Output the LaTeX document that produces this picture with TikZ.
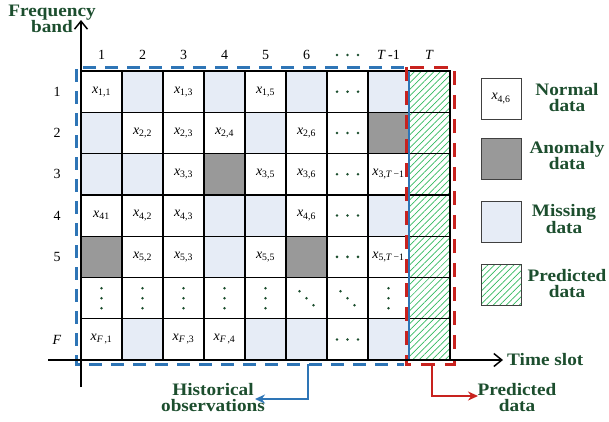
\documentclass[tikz,border=0pt]{standalone}
\usepackage{fontspec}
\setmainfont{Liberation Serif}
\newfontfamily\lblfont[FakeStretch=1.1]{Liberation Serif}
\usetikzlibrary{arrows.meta,patterns.meta}
\definecolor{dgreen}{RGB}{28,78,46}
\definecolor{hblue}{RGB}{46,117,182}
\definecolor{predred}{RGB}{200,34,30}
\definecolor{missfill}{RGB}{230,236,246}
\definecolor{anomfill}{RGB}{153,153,153}
\definecolor{hatch}{RGB}{50,185,95}
\newcommand{\xs}[1]{\textit{x}\textsubscript{#1}}
% cell of the data matrix: column, row, style, content
\newcommand{\cellat}[4]{\node[#3] (c#2-#1) at ({81+41*(#1-0.5)},{71+41.3*(#2-0.5)}) {#4};}
\begin{document}
\begin{tikzpicture}[x=1pt,y=-1pt,
  cell/.style={draw=black,line width=1.3pt,fill=white,minimum width=41pt,minimum height=41.3pt,
    inner sep=0pt,font=\fontsize{14}{14}\selectfont},
  missing/.style={cell,fill=missfill},
  anomaly/.style={cell,fill=anomfill},
  predcell/.style={cell,pattern={Lines[angle=45,distance=4.6pt,line width=0.7pt]},pattern color=hatch},
  legbox/.style={draw=black!75,line width=1pt,minimum width=40pt,minimum height=41pt,inner sep=0pt,
    font=\fontsize{14}{14}\selectfont},
  axlab/.style={font=\fontsize{14}{14}\selectfont},
  title/.style={text=dgreen,align=center,inner sep=0pt,font=\lblfont\bfseries\fontsize{17.5}{16}\selectfont},
  axis/.style={line width=1.5pt,-{Straight Barb[length=8pt,width=13pt,line width=1.5pt]}},
  dotf/.style={fill=dgreen}
]
\useasboundingbox (0,0) rectangle (609,421);

% row 1
\cellat{1}{1}{cell}{\xs{1,1}}
\cellat{2}{1}{missing}{}
\cellat{3}{1}{cell}{\xs{1,3}}
\cellat{4}{1}{missing}{}
\cellat{5}{1}{cell}{\xs{1,5}}
\cellat{6}{1}{missing}{}
\cellat{7}{1}{cell}{}
\cellat{8}{1}{missing}{}
\cellat{9}{1}{predcell}{}
% row 2
\cellat{1}{2}{missing}{}
\cellat{2}{2}{cell}{\xs{2,2}}
\cellat{3}{2}{cell}{\xs{2,3}}
\cellat{4}{2}{cell}{\xs{2,4}}
\cellat{5}{2}{missing}{}
\cellat{6}{2}{cell}{\xs{2,6}}
\cellat{7}{2}{cell}{}
\cellat{8}{2}{anomaly}{}
\cellat{9}{2}{predcell}{}
% row 3
\cellat{1}{3}{missing}{}
\cellat{2}{3}{missing}{}
\cellat{3}{3}{cell}{\xs{3,3}}
\cellat{4}{3}{anomaly}{}
\cellat{5}{3}{cell}{\xs{3,5}}
\cellat{6}{3}{cell}{\xs{3,6}}
\cellat{7}{3}{cell}{}
\cellat{8}{3}{cell}{\xs{3,\textit{T}\,−1}}
\cellat{9}{3}{predcell}{}
% row 4
\cellat{1}{4}{cell}{\xs{41}}
\cellat{2}{4}{cell}{\xs{4,2}}
\cellat{3}{4}{cell}{\xs{4,3}}
\cellat{4}{4}{missing}{}
\cellat{5}{4}{missing}{}
\cellat{6}{4}{cell}{\xs{4,6}}
\cellat{7}{4}{cell}{}
\cellat{8}{4}{missing}{}
\cellat{9}{4}{predcell}{}
% row 5
\cellat{1}{5}{anomaly}{}
\cellat{2}{5}{cell}{\xs{5,2}}
\cellat{3}{5}{cell}{\xs{5,3}}
\cellat{4}{5}{missing}{}
\cellat{5}{5}{cell}{\xs{5,5}}
\cellat{6}{5}{anomaly}{}
\cellat{7}{5}{cell}{}
\cellat{8}{5}{cell}{\xs{5,\textit{T}\,−1}}
\cellat{9}{5}{predcell}{}
% row 6 (ellipsis row)
\foreach \c in {1,...,8} {\cellat{\c}{6}{cell}{}}
\cellat{9}{6}{predcell}{}
% row F
\cellat{1}{7}{cell}{\xs{\textit{F}\,,1}}
\cellat{2}{7}{missing}{}
\cellat{3}{7}{cell}{\xs{\textit{F}\,,3}}
\cellat{4}{7}{cell}{\xs{\textit{F}\,,4}}
\cellat{5}{7}{missing}{}
\cellat{6}{7}{missing}{}
\cellat{7}{7}{cell}{}
\cellat{8}{7}{missing}{}
\cellat{9}{7}{predcell}{}

% ellipsis dots
\foreach \r in {1,2,3,4,5,7}
  \foreach \d in {-10.5,0,10.5}
    \fill[dotf] ([xshift=\d pt]c\r-7.center) circle (1.4pt);
\foreach \c in {1,2,3,4,5,8}
  \foreach \d in {-10,0,10}
    \fill[dotf] ([yshift=\d pt]c6-\c.center) circle (1.4pt);
\foreach \c in {6,7}
  \foreach \d in {-7,0,7}
    \fill[dotf] ([xshift=\d pt,yshift=-\d pt]c6-\c.center) circle (1.4pt);

% column labels
\foreach \i in {1,...,6}
  \node[axlab] (col\i) at ({81+41*(\i-0.5)},55) {\i};
\coordinate (col7) at ({81+41*6.5},55);
\foreach \d in {-10.5,0,10.5}
  \fill[dotf] ([xshift=\d pt]col7) circle (1.4pt);
\node[axlab] (col8) at ({81+41*7.5},55) {\textit{T}\,-1};
\node[axlab] (col9) at ({81+41*8.5},55) {\textit{T}};

% row labels
\foreach \i in {1,...,5}
  \node[axlab] (row\i) at (57,{71+41.3*(\i-0.5)}) {\i};
\node[axlab] (row7) at (57,{71+41.3*6.5}) {\textit{F}};

% history window (blue) and prediction window (red)
\draw[hblue,line width=3pt,dash pattern=on 13pt off 9pt] (404,67) -- (76,67) -- (76,364) -- (404,364);
\draw[hblue,line width=2.5pt] (409,71) -- (409,360);
\draw[predred,line width=3pt,dash pattern=on 14pt off 10pt] (406,67) rectangle (454,364);

% axes
\coordinate (vstart) at (81,387);
\coordinate (vend) at (81,20);
\coordinate (hstart) at (48,360);
\coordinate (hend) at (503,360);
\draw[axis] (vstart) -- (vend);
\draw[axis] (hstart) -- (hend);
\node[title] (ylab) at (52,19) {Frequency\\band};
\node[title,anchor=west] (xlab) at (507,360) {Time slot};

% window captions
\node[title] (hist) at (213,398) {Historical\\observations};
\node[title] (predlab) at (517,397.5) {Predicted\\data};
\coordinate (hsrc) at (308,364);
\coordinate (hdst) at (255,399);
\draw[hblue,line width=1.8pt,-{Stealth[length=10pt,width=9pt]}] (hsrc) |- (hdst);
\coordinate (psrc) at (432,364);
\coordinate (pdst) at (478,396);
\draw[predred,line width=1.8pt,-{Stealth[length=10pt,width=9pt]}] (psrc) |- (pdst);

% legend
\node[legbox,fill=white] (lg1) at (501,98.5) {\xs{4,6}};
\node[legbox,fill=anomfill] (lg2) at (501,158.5) {};
\node[legbox,fill=missfill] (lg3) at (501,221.5) {};
\node[legbox,pattern={Lines[angle=45,distance=4.6pt,line width=0.7pt]},pattern color=hatch] (lg4) at (501,285) {};
\node[title] (lt1) at (567,97.5) {Normal\\data};
\node[title] (lt2) at (567,155.5) {Anomaly\\data};
\node[title] (lt3) at (564,219) {Missing\\data};
\node[title] (lt4) at (567,283.5) {Predicted\\data};
\end{tikzpicture}
\end{document}
